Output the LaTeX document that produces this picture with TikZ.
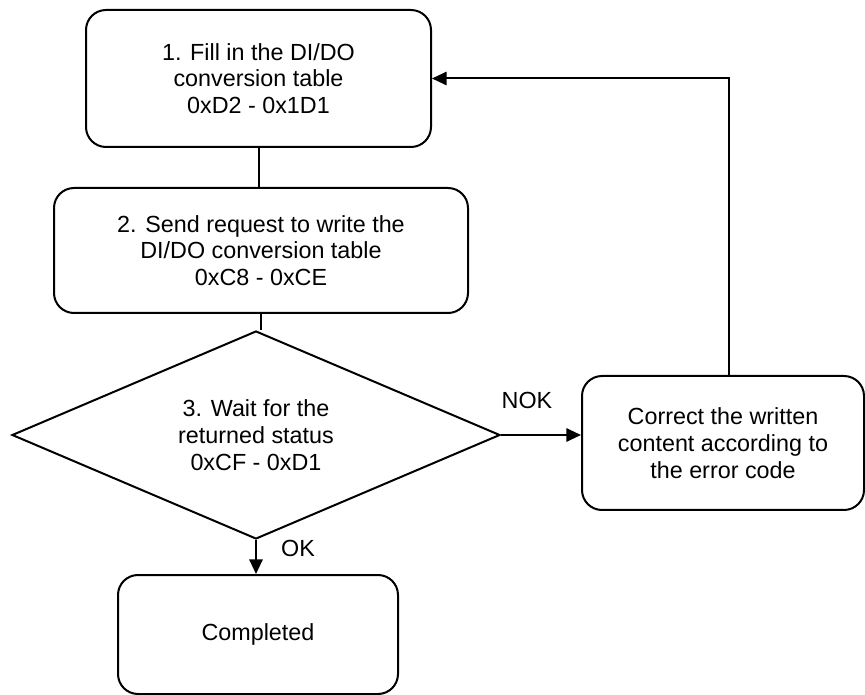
\documentclass[tikz,border=0pt]{standalone}
\usepackage{fontspec}
\setmainfont{Liberation Sans}
\usepackage{tikz}
\usetikzlibrary{shapes.geometric, arrows.meta, positioning}

\begin{document}
\begin{tikzpicture}[x=0.75pt, y=-0.75pt,
	stepbox/.style={rectangle, draw=black, fill=white, rounded corners=15pt, align=center,
	                line width=1.5pt, font=\fontsize{17.5}{20}\selectfont, inner sep=4pt},
	decide/.style={diamond, draw=black, fill=white, align=center, line width=1.5pt,
	               aspect=2.35, inner sep=2pt, font=\fontsize{17.5}{20}\selectfont},
	lbl/.style={font=\fontsize{17.5}{20}\selectfont, inner sep=0pt},
	conn/.style={draw=black, line width=1.5pt},
	arr/.style={-{Triangle[length=11pt, width=10pt]}, draw=black, line width=1.5pt}
	]
\useasboundingbox (0,0) rectangle (865,695);

% Ablauf links
\node[stepbox, minimum width=258.75pt, minimum height=102.75pt] (fill) at (258.5,78.5)
	{1. Fill in the DI/DO\\ conversion table\\ 0xD2 - 0x1D1};
\node[stepbox, minimum width=310.5pt, minimum height=93.75pt] (send) at (261,250.5)
	{2. Send request to write the\\ DI/DO conversion table\\ 0xC8 - 0xCE};
\node[decide, minimum width=366pt, minimum height=156pt] (wait) at (256,435)
	{3. Wait for the\\ returned status\\ 0xCF - 0xD1};
\node[stepbox, minimum width=210pt, minimum height=89.25pt] (done) at (258,634.5)
	{Completed};

% Fehlerzweig rechts
\node[stepbox, minimum width=211.5pt, minimum height=100.5pt] (fix) at (723,443)
	{Correct the written\\ content according to\\ the error code};

\draw[conn] (fill.south) -- (fill.south |- send.north);
\draw[conn] (send.south) -- (send.south |- wait.north);
\draw[arr] (wait.south) -- (wait.south |- done.north);
\draw[arr] (wait.east) -- (wait.east -| fix.west);
\draw[arr] ([xshift=4.5pt]fix.north) |- (fill.east);

\node[lbl] (ok) at (298,548) {OK};
\node[lbl] (nok) at (527,400) {NOK};

\end{tikzpicture}
\end{document}
